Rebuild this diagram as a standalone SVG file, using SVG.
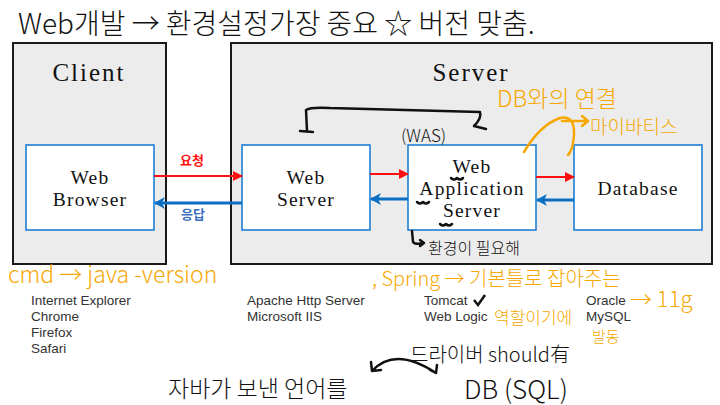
<svg xmlns="http://www.w3.org/2000/svg" width="720" height="405" viewBox="0 0 720 405">
<defs>
<style>
.outer{fill:#ececec;stroke:#1a1a1a;stroke-width:2}
.box{fill:#fff;stroke:#1f7fd4;stroke-width:1.6}
.title{font-family:"Liberation Serif","Noto Serif",serif;font-size:25px;fill:#111;text-anchor:middle;letter-spacing:2px}
.lbl{font-family:"Liberation Serif",serif;font-size:19.5px;fill:#111;text-anchor:middle;letter-spacing:1.2px}
.list{font-family:"Liberation Sans","Noto Sans CJK KR",sans-serif;font-size:13.5px;fill:#333}
.hand{font-family:"Noto Sans CJK KR",sans-serif;font-weight:300}
.or{fill:#f6a800}
.bk{fill:#111}
.red{stroke:#ff1010;stroke-width:2;fill:none}
.blue{stroke:#0a6fc2;stroke-width:3;fill:none}
.pen{stroke:#111;stroke-width:2.5;fill:none;stroke-linecap:round;stroke-linejoin:round}
.open{stroke:#f6a800;stroke-width:2.5;fill:none;stroke-linecap:round;stroke-linejoin:round}
</style>
<marker id="ar" markerWidth="10" markerHeight="10" refX="9" refY="5" orient="auto" markerUnits="userSpaceOnUse"><path d="M0,0 L10,5 L0,10 z" fill="#ff1010"/></marker>
<marker id="ab" markerWidth="12" markerHeight="12" refX="10" refY="6" orient="auto" markerUnits="userSpaceOnUse"><path d="M0,0 L11,6 L0,12 L3,6 z" fill="#0a6fc2"/></marker>
</defs>

<text class="hand bk" x="18" y="34" font-size="28">Web개발 → 환경설정가장 중요 ☆ 버전 맞춤.</text>

<g id="client">
<rect class="outer" x="13" y="43" width="153" height="221"/>
<text class="title" x="89" y="81">Client</text>
</g>
<g id="server">
<rect class="outer" x="231" y="43" width="481" height="221"/>
<text class="title" x="471" y="81">Server</text>
</g>

<g id="web-browser">
<rect class="box" x="26" y="145" width="128" height="85"/>
<text class="lbl" x="90" y="184">Web</text>
<text class="lbl" x="90" y="206">Browser</text>
</g>
<g id="web-server">
<rect class="box" x="242" y="145" width="128" height="85"/>
<text class="lbl" x="306" y="184">Web</text>
<text class="lbl" x="306" y="206">Server</text>
</g>
<g id="was">
<rect class="box" x="408" y="145" width="128" height="85"/>
<text class="lbl" x="472" y="173">Web</text>
<text class="lbl" x="472" y="195">Application</text>
<text class="lbl" x="472" y="217">Server</text>
</g>
<g id="database">
<rect class="box" x="574" y="145" width="128" height="85"/>
<text class="lbl" x="638" y="195">Database</text>
</g>

<g id="connectors">
<line class="red" x1="154" y1="176" x2="242" y2="176" marker-end="url(#ar)"/>
<line class="blue" x1="242" y1="203" x2="155" y2="203" marker-end="url(#ab)"/>
<line class="red" x1="370" y1="174" x2="408" y2="174" marker-end="url(#ar)"/>
<line class="blue" x1="408" y1="199" x2="371" y2="199" marker-end="url(#ab)"/>
<line class="red" x1="536" y1="177" x2="574" y2="177" marker-end="url(#ar)"/>
<line class="blue" x1="574" y1="200" x2="537" y2="200" marker-end="url(#ab)"/>
<text x="192" y="165" font-family="Noto Sans CJK KR,sans-serif" font-size="13" font-weight="bold" fill="#ff1010" text-anchor="middle">요청</text>
<text x="193" y="219" font-family="Noto Sans CJK KR,sans-serif" font-size="13" font-weight="bold" fill="#3a6fc0" text-anchor="middle">응답</text>
</g>

<g id="lists">
<text class="list" x="31" y="305">Internet Explorer</text>
<text class="list" x="31" y="321">Chrome</text>
<text class="list" x="31" y="337">Firefox</text>
<text class="list" x="31" y="353">Safari</text>
<text class="list" x="247" y="305">Apache Http Server</text>
<text class="list" x="247" y="321">Microsoft IIS</text>
<text class="list" x="424" y="305">Tomcat</text>
<text class="list" x="424" y="321">Web Logic</text>
<text class="list" x="586" y="305">Oracle</text>
<text class="list" x="586" y="321">MySQL</text>
</g>

<g id="annotations">
<path class="pen" d="M300,131 L313,132 M307,131 L306,110 Q310,107 330,108 L480,112 Q482,118 474,126 L486,129"/>
<text class="hand bk" x="401" y="142" font-size="17" font-weight="500">(WAS)</text>
<path class="pen" stroke-width="1.5" d="M451,178 q3,3 6,0 q3,3 6,0 M417,202 q3,3 6,0 q3,3 6,0 M440,224 q3,3 6,0 q3,3 6,0"/>
<path class="pen" stroke-width="1.8" d="M412,231 L413,242 Q415,245 424,243 M420,240 L424,243 L420,246"/>
<text class="hand bk" x="428" y="254" font-size="16">환경이 필요해</text>

<text class="hand or" x="497" y="107" font-size="23">DB와의 연결</text>
<path class="open" d="M524,152 Q540,125 560,118 Q575,115 574,135 Q573,150 568,155 M562,121 L588,121 M582,116 L588,121 L582,126"/>
<text class="hand or" x="590" y="134" font-size="19">마이바티스</text>

<text class="hand or" x="8" y="283" font-size="23">cmd → java -version</text>
<text class="hand or" x="372" y="286" font-size="20">, Spring → 기본틀로 잡아주는</text>
<path d="M474,300 L478,305 L485,295" stroke="#111" stroke-width="2.5" fill="none"/>
<text class="hand or" x="494" y="324" font-size="17">역할이기에</text>
<text class="hand or" x="592" y="342" font-size="15">발동</text>
<text class="hand or" x="630" y="307" font-size="22">→ 11g</text>

<path class="pen" stroke-width="2" d="M372,371 Q395,346 436,373 M371,362 L372,371 L381,370 M430,370 L436,373 L437,365"/>
<text class="hand bk" x="410" y="362" font-size="20">드라이버 should有</text>
<text class="hand bk" x="168" y="397" font-size="23">자바가 보낸 언어를</text>
<text class="hand bk" x="464" y="399" font-size="26">DB (SQL)</text>
</g>
</svg>
